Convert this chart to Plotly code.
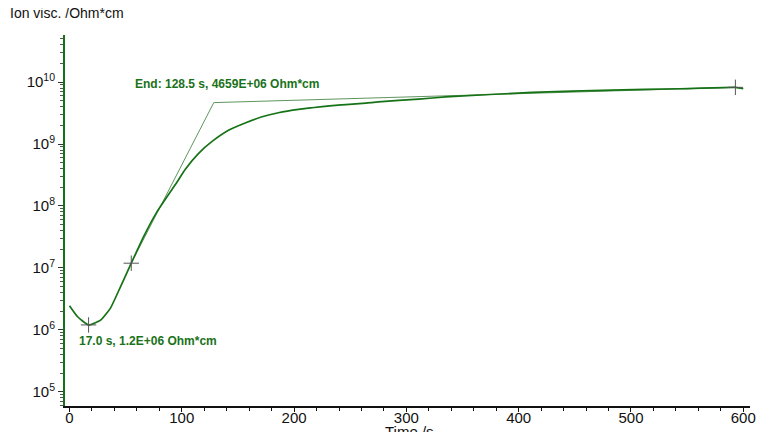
import plotly.graph_objects as go

# Curve data (time in s, ion viscosity in Ohm*cm)
time_s = [0, 7, 17, 28, 36.5, 45.5, 55, 66, 78, 97, 103, 115, 127, 142, 157, 171.5,
          186, 204, 216, 234, 246, 264, 275, 311, 335, 412, 483, 542, 593, 600]
visc = [2.44e6, 1.64e6, 1.2e6, 1.45e6, 2.24e6, 5.0e6, 1.19e7, 3.2e7, 8.1e7, 2.63e8,
        3.89e8, 7.08e8, 1.10e9, 1.68e9, 2.21e9, 2.75e9, 3.20e9, 3.63e9, 3.85e9, 4.17e9,
        4.32e9, 4.57e9, 4.79e9, 5.31e9, 5.75e9, 6.82e9, 7.43e9, 7.80e9, 8.22e9, 7.80e9]

# Construction (tangent) line points
tan_time = [55, 128.5, 593]
tan_visc = [1.19e7, 4.659e9, 8.22e9]

# Marked points
mark_time = [17.0, 55, 593]
mark_visc = [1.2e6, 1.19e7, 8.22e9]

# Axis ticks
x_ticks = [0, 100, 200, 300, 400, 500, 600]
y_ticks = [1e5, 1e6, 1e7, 1e8, 1e9, 1e10]
y_ticktext = ["10<sup>5</sup>", "10<sup>6</sup>", "10<sup>7</sup>", "10<sup>8</sup>",
              "10<sup>9</sup>", "10<sup>10</sup>"]

# Labels
label_end = "End: 128.5 s, 4659E+06 Ohm*cm"
label_min = "17.0 s, 1.2E+06 Ohm*cm"
y_title = "Ion visc. /Ohm*cm"
x_title = "Time /s"

GREEN = "#167216"
TXT_GREEN = "#1a721a"
FONT = "Liberation Sans, Arial, sans-serif"

y_minor = [m * 10 ** e for e in range(4, 11) for m in range(2, 10)]

fig = go.Figure()
fig.add_trace(go.Scatter(x=tan_time, y=tan_visc, mode="lines",
                         line=dict(color="#5f955f", width=1), hoverinfo="skip"))
fig.add_trace(go.Scatter(x=time_s, y=visc, mode="lines",
                         line=dict(color=GREEN, width=1.7, shape="spline", smoothing=0.5)))
fig.add_trace(go.Scatter(x=mark_time, y=mark_visc, mode="markers",
                         marker=dict(symbol="cross-thin", size=11,
                                     line=dict(color="#555555", width=1))))

fig.add_annotation(x=56.4, y=9.963, xref="x", yref="y", text="<b>" + label_end + "</b>",
                   showarrow=False, xanchor="left", yanchor="middle",
                   font=dict(family=FONT, size=12, color=TXT_GREEN))
fig.add_annotation(x=6.8, y=5.827, xref="x", yref="y", text="<b>" + label_min + "</b>",
                   showarrow=False, xanchor="left", yanchor="middle",
                   font=dict(family=FONT, size=12, color=TXT_GREEN))
fig.add_annotation(x=-0.0832, y=1.059, xref="paper", yref="paper", text=y_title,
                   showarrow=False, xanchor="left", yanchor="middle",
                   font=dict(family=FONT, size=14, color="#111111"))
fig.add_annotation(x=0.503, y=-0.070, xref="paper", yref="paper", text=x_title,
                   showarrow=False, xanchor="center", yanchor="middle",
                   font=dict(family=FONT, size=15, color="#111111"))

fig.update_layout(
    width=760, height=424,
    margin=dict(l=57, r=18, t=27, b=26, autoexpand=False),
    paper_bgcolor="white", plot_bgcolor="white",
    showlegend=False,
    font=dict(family=FONT, size=15, color="#111111"),
    xaxis=dict(range=[-4, 606], tickmode="array", tickvals=x_ticks,
               automargin=False, ticklabelstandoff=-7,
               showgrid=False, zeroline=False, showline=True, linecolor="#111111",
               linewidth=1.5, ticks="outside", ticklen=4, tickcolor="#111111",
               minor=dict(dtick=20, tick0=0, ticks="outside", ticklen=3, tickcolor="#111111"),
               tickfont=dict(size=15)),
    yaxis=dict(type="log", range=[4.77, 10.76], tickmode="array", tickvals=y_ticks,
               ticktext=y_ticktext, automargin=False,
               showgrid=False, zeroline=False, showline=True, linecolor=GREEN,
               linewidth=2, ticks="outside", ticklen=5, tickcolor="#333333",
               minor=dict(ticks="outside", ticklen=3, tickcolor="#555555",
                          tickmode="array", tickvals=y_minor),
               tickfont=dict(size=15)),
)

fig.write_html("out.html")
